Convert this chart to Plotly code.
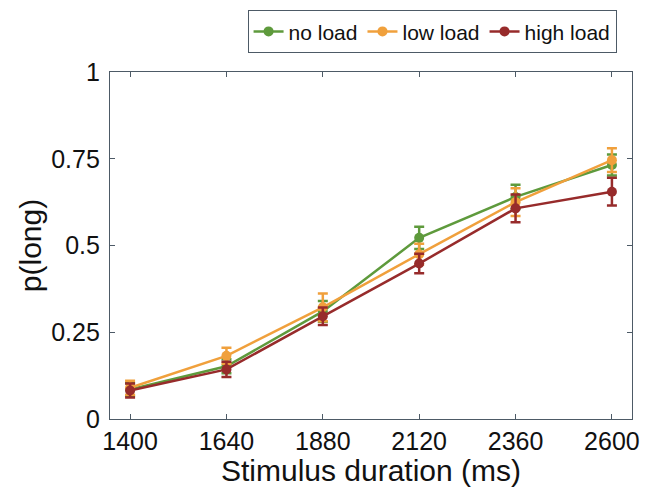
import plotly.graph_objects as go

durations = [1400, 1640, 1880, 2120, 2360, 2600]

no_load = [0.085, 0.152, 0.31, 0.522, 0.64, 0.732]
no_load_err = [0.018, 0.02, 0.03, 0.032, 0.035, 0.03]

low_load = [0.09, 0.182, 0.322, 0.475, 0.625, 0.746]
low_load_err = [0.02, 0.023, 0.04, 0.03, 0.04, 0.034]

high_load = [0.082, 0.143, 0.296, 0.448, 0.607, 0.655]
high_load_err = [0.02, 0.022, 0.025, 0.028, 0.04, 0.04]

series = [
    ("no load", no_load, no_load_err, "#5e9a3c"),
    ("low load", low_load, low_load_err, "#f0a03c"),
    ("high load", high_load, high_load_err, "#972b2b"),
]

fig = go.Figure()
for name, y, err, color in series:
    fig.add_trace(go.Scatter(
        x=durations, y=y, name=name, mode='lines+markers',
        line=dict(color=color, width=2.5),
        marker=dict(color=color, size=10),
        error_y=dict(type='data', array=err, color=color, thickness=2.5, width=5),
    ))

axis_style = dict(
    showline=True, linecolor="#4d5a66", linewidth=1.2, mirror="ticks",
    ticks="inside", ticklen=5, tickcolor="#4d5a66", showgrid=False, zeroline=False,
    tickfont=dict(size=25, color="#111"), automargin=False,
)

# page body has an 8px margin, so the figure is offset by 8px in the window
fig.update_layout(
    width=636, height=479,
    margin=dict(l=102, r=12, t=64, b=68, autoexpand=False),
    plot_bgcolor="white", paper_bgcolor="white",
    font=dict(family="Liberation Sans, Arial, sans-serif", size=25, color="#111"),
    xaxis=dict(range=[1350, 2650], tickvals=durations,
               title=dict(text="Stimulus duration (ms)", standoff=10), **axis_style),
    yaxis=dict(range=[0, 1], tickvals=[0, 0.25, 0.5, 0.75, 1],
               ticktext=["0", "0.25", "0.5", "0.75", "1"], ticklabelstandoff=4,
               title=dict(text="p(long)", standoff=0), **axis_style),
    legend=dict(orientation="h", x=0.617, xanchor="center", y=1.178, yanchor="top",
                bordercolor="#4d5a66", borderwidth=1, font=dict(size=21),
                itemwidth=30, tracegroupgap=0),
)

fig.write_html("out.html")
